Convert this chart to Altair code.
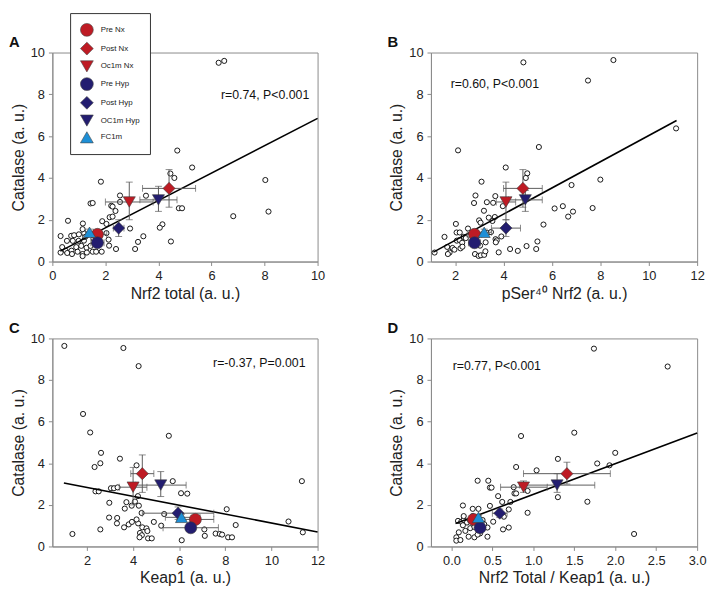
import altair as alt
import pandas as pd

FONT = "Liberation Sans"

groups = ["Pre Nx", "Post Nx", "Oc1m Nx", "Pre Hyp", "Post Hyp", "OC1m Hyp", "FC1m"]
group_colors = ["#BE1B24", "#BE1B24", "#BE1B24", "#231D70", "#231D70", "#231D70", "#1E8FD6"]
group_shapes = ["circle", "diamond", "triangle-down", "circle", "diamond", "triangle-down", "triangle-up"]
cat_mean = [1.3, 3.5, 2.85, 0.9, 1.6, 2.95, 1.4]
y_ticks = [0, 2, 4, 6, 8, 10]

# ---------------- Panel A : Nrf2 total ----------------
a_x = [6.27, 6.48, 3.23, 4.71, 5.27, 4.45, 4.60, 8.03, 1.83, 3.53, 2.55, 2.55, 4.77, 4.89,
       1.44, 1.52, 2.22, 2.27, 2.38, 2.16, 2.27, 1.88, 2.04, 8.15, 6.82, 0.59, 1.15, 2.93,
       4.15, 4.05, 3.43, 3.23, 3.12, 4.47, 2.40, 2.12, 2.14, 0.31, 0.71, 0.82, 1.00, 1.20,
       1.14, 2.04, 0.55, 0.77, 0.99, 1.19, 1.24, 0.37, 0.50, 0.31, 0.72, 0.90, 1.09, 1.29,
       1.44, 0.56, 0.74, 0.95, 1.14, 1.30, 1.52, 1.65, 1.86, 1.14, 1.55]
a_y = [9.51, 9.60, 5.47, 5.31, 4.50, 4.21, 4.00, 3.90, 3.82, 3.15, 3.16, 2.85, 2.55, 2.55,
       2.78, 2.80, 2.67, 2.63, 2.42, 2.12, 2.15, 1.93, 1.80, 2.39, 2.17, 1.95, 1.82, 1.58,
       1.78, 1.62, 1.21, 0.94, 0.60, 0.96, 0.60, 1.05, 0.76, 1.22, 1.23, 1.26, 1.30, 1.35,
       1.55, 1.36, 0.99, 0.99, 0.99, 1.00, 1.18, 0.69, 0.52, 0.43, 0.52, 0.69, 0.75, 0.66,
       0.75, 0.41, 0.36, 0.47, 0.36, 0.43, 0.47, 0.47, 0.47, 0.26, 1.10]
a_mean_x = [1.7, 4.4, 2.9, 1.7, 2.5, 4.0, 1.4]
a_xlo = [1.35, 3.4, 2.0, 1.45, 2.3, 3.3, 1.25]
a_xhi = [2.05, 5.4, 3.8, 1.95, 2.7, 4.7, 1.55]
a_ylo = [1.15, 2.6, 2.0, 0.8, 1.2, 2.4, 1.25]
a_yhi = [1.45, 4.4, 3.8, 1.0, 2.0, 3.6, 1.55]
a_fit_x = [0.3, 10.0]
a_fit_y = [0.5, 6.85]

# ---------------- Panel B : pSer40 Nrf2 ----------------
b_x = [4.82, 8.54, 7.49, 11.13, 2.12, 5.46, 4.09, 4.98, 4.92, 3.09, 6.81, 8.00, 2.84, 3.66,
       2.78, 3.31, 3.57, 3.97, 6.11, 6.45, 6.87, 6.67, 7.68, 3.19, 5.65, 2.03, 2.99, 3.05,
       3.64, 3.39, 3.54, 2.53, 1.56, 2.06, 2.19, 2.35, 2.44, 2.07, 2.18, 1.67, 1.89, 1.97,
       2.22, 1.77, 1.70, 1.15, 2.29, 2.30, 2.82, 2.97, 3.06, 3.20, 3.03, 3.26, 3.25, 3.67,
       3.72, 3.91, 3.68, 3.80, 4.27, 4.59, 4.95, 5.35, 5.40, 3.33, 3.48]
b_y = [9.53, 9.64, 8.66, 6.37, 5.32, 5.48, 4.50, 4.22, 4.00, 3.82, 3.66, 3.92, 3.16, 3.13,
       2.80, 2.84, 2.81, 2.65, 2.54, 2.65, 2.39, 2.15, 2.56, 2.43, 1.77, 1.80, 1.97, 1.86,
       2.13, 2.10, 1.94, 1.58, 1.18, 1.39, 1.39, 1.18, 1.12, 1.00, 1.03, 0.70, 0.65, 0.57,
       0.63, 0.43, 0.36, 0.43, 0.90, 0.71, 0.36, 0.27, 0.30, 0.32, 0.76, 0.92, 0.49, 1.07,
       1.01, 1.20, 0.92, 0.44, 0.60, 0.51, 0.74, 0.60, 0.96, 1.37, 1.41]
b_mean_x = [2.8, 4.8, 4.1, 2.8, 4.1, 4.9, 3.2]
b_xlo = [2.5, 4.0, 3.7, 2.55, 3.5, 4.2, 2.9]
b_xhi = [3.1, 5.6, 4.5, 3.05, 4.7, 5.6, 3.5]
b_ylo = [1.15, 2.6, 2.0, 0.8, 1.2, 2.4, 1.25]
b_yhi = [1.45, 4.4, 3.8, 1.0, 2.0, 3.4, 1.55]
b_fit_x = [1.1, 11.15]
b_fit_y = [0.45, 6.75]

# ---------------- Panel C : Keap1 ----------------
c_x = [1.02, 3.58, 4.24, 1.83, 2.14, 5.55, 2.61, 2.58, 2.33, 3.43, 4.15, 5.72, 11.32, 2.37,
       2.51, 3.04, 3.17, 3.33, 4.21, 6.08, 6.35, 2.97, 3.71, 4.08, 3.64, 3.94, 4.25, 4.37,
       5.35, 8.06, 2.96, 3.31, 3.30, 3.61, 3.81, 3.95, 4.22, 4.15, 4.40, 4.58, 4.62, 4.30,
       4.38, 4.28, 4.65, 4.81, 4.90, 5.22, 2.58, 1.37, 6.11, 7.09, 7.11, 7.58, 7.76, 7.86,
       8.12, 8.29, 8.45, 10.74, 11.36]
c_y = [9.64, 9.54, 8.67, 6.37, 5.48, 5.32, 4.50, 4.00, 3.82, 4.22, 3.90, 3.14, 3.14, 2.65,
       2.65, 2.80, 2.80, 2.84, 2.42, 2.56, 2.54, 2.10, 2.13, 2.16, 1.82, 1.96, 1.96, 1.61,
       1.56, 1.79, 1.39, 1.37, 1.11, 0.92, 1.06, 1.18, 1.11, 1.30, 0.92, 0.87, 0.74, 0.65,
       0.54, 0.44, 0.39, 0.39, 1.18, 1.00, 0.82, 0.60, 0.30, 0.82, 0.51, 0.62, 0.60, 0.57,
       0.44, 0.44, 1.03, 1.20, 0.68]
c_mean_x = [6.7, 4.4, 4.0, 6.5, 5.95, 5.2, 6.1]
c_xlo = [5.9, 3.9, 3.4, 5.3, 4.4, 4.1, 5.4]
c_xhi = [7.5, 4.9, 4.6, 7.7, 7.5, 6.3, 6.9]
c_ylo = [1.15, 2.6, 2.0, 0.8, 1.3, 2.4, 1.25]
c_yhi = [1.45, 4.4, 3.8, 1.0, 1.9, 3.6, 1.55]
c_fit_x = [1.0, 12.0]
c_fit_y = [3.05, 0.7]

# ---------------- Panel D : Nrf2 total / Keap1 ----------------
d_x = [1.74, 2.64, 1.50, 0.85, 2.00, 1.30, 1.78, 1.93, 0.79, 1.04, 0.32, 0.45, 0.47, 0.49,
       0.76, 0.77, 0.79, 0.93, 0.57, 0.62, 0.72, 0.70, 0.47, 0.14, 0.26, 0.33, 0.93, 1.30,
       1.66, 2.23, 0.64, 0.51, 0.44, 0.70, 0.63, 0.44, 0.08, 0.12, 0.15, 0.19, 0.23, 0.09,
       0.17, 0.23, 0.06, 0.06, 0.11, 0.14, 0.21, 0.28, 0.35, 0.38, 0.40, 0.28, 0.15, 0.26,
       0.32]
d_y = [9.51, 8.65, 5.47, 5.31, 4.50, 4.21, 3.99, 3.90, 3.82, 3.66, 3.16, 3.16, 2.83, 2.83,
       2.85, 2.55, 2.55, 2.67, 2.42, 2.14, 2.14, 1.78, 1.95, 1.97, 1.81, 1.81, 1.62, 2.37,
       2.15, 0.60, 1.43, 1.19, 0.91, 0.91, 0.82, 0.47, 1.23, 1.19, 1.27, 1.15, 1.23, 0.68,
       0.75, 0.88, 0.44, 0.28, 0.31, 1.02, 0.47, 0.44, 0.63, 1.27, 1.07, 0.94, 1.46, 1.46,
       0.57]
d_mean_x = [0.27, 1.41, 0.88, 0.35, 0.59, 1.29, 0.33]
d_xlo = [0.22, 0.88, 0.60, 0.30, 0.50, 0.83, 0.30]
d_xhi = [0.32, 1.94, 1.17, 0.40, 0.68, 1.75, 0.36]
d_ylo = [1.2, 3.0, 2.6, 0.8, 1.4, 2.6, 1.3]
d_yhi = [1.4, 4.05, 3.15, 1.0, 1.8, 3.5, 1.5]
d_fit_x = [0.05, 3.0]
d_fit_y = [1.1, 5.45]

panel_letters = ["A", "B", "C", "D"]
stat_texts = ["r=0.74, P<0.001", "r=0.60, P<0.001", "r=-0.37, P=0.001", "r=0.77, P<0.001"]
x_titles = ["Nrf2 total (a. u.)", "pSer\u2074\u2070 Nrf2  (a. u.)", "Keap1 (a. u.)",
            "Nrf2 Total / Keap1 (a. u.)"]


def panel(px, py, mx, xlo, xhi, ylo, yhi, fx, fy, xdom, xticks, xfmt, xtitle,
          stat, stat_pos, letter, w, h, show_legend):
    pts = pd.DataFrame({"x": px, "y": py})
    means = pd.DataFrame({"group": groups, "x": mx, "y": cat_mean,
                          "xlo": xlo, "xhi": xhi, "ylo": ylo, "yhi": yhi})
    fit = pd.DataFrame({"x": fx, "y": fy})
    hcap = pd.DataFrame({"x": list(xlo) + list(xhi), "y": cat_mean * 2})
    vcap = pd.DataFrame({"x": list(mx) * 2, "y": list(ylo) + list(yhi)})

    xs = alt.Scale(domain=xdom, nice=False, zero=False)
    ys = alt.Scale(domain=[0, 10], nice=False, zero=False)
    xax = alt.Axis(values=xticks, format=xfmt, title=xtitle)
    yax = alt.Axis(values=y_ticks, title="Catalase (a. u.)")

    def X(f):
        return alt.X(f, type="quantitative", scale=xs, axis=xax)

    def Y(f):
        return alt.Y(f, type="quantitative", scale=ys, axis=yax)

    err_col = "#5a5a5a"
    l_pts = alt.Chart(pts).mark_point(shape="circle", fill="white", fillOpacity=1, stroke="black",
                                      strokeWidth=0.9, size=27, opacity=1).encode(x=X("x"), y=Y("y"))
    l_fit = alt.Chart(fit).mark_line(color="black", strokeWidth=1.6).encode(x=X("x"), y=Y("y"))
    l_h = alt.Chart(means).mark_rule(color=err_col, strokeWidth=1).encode(
        x=X("xlo"), x2="xhi:Q", y=Y("y"))
    l_v = alt.Chart(means).mark_rule(color=err_col, strokeWidth=1).encode(
        x=X("x"), y=Y("ylo"), y2="yhi:Q")
    l_hc = alt.Chart(hcap).mark_tick(orient="vertical", color=err_col, size=7, thickness=1).encode(
        x=X("x"), y=Y("y"))
    l_vc = alt.Chart(vcap).mark_tick(orient="horizontal", color=err_col, size=7, thickness=1).encode(
        x=X("x"), y=Y("y"))
    if show_legend:
        leg = alt.Legend(title=None, orient="none", legendX=18, legendY=-40,
                         strokeColor="#333333", fillColor="white", padding=10,
                         symbolSize=170, labelFontSize=8, labelFont=FONT, labelColor="#222222",
                         rowPadding=3, labelOffset=7, symbolStrokeColor="#444444",
                         symbolStrokeWidth=0.6, cornerRadius=0)
    else:
        leg = None
    l_means = alt.Chart(means).mark_point(filled=True, size=150, stroke="#3a3a3a",
                                          strokeWidth=0.6, opacity=1).encode(
        x=X("x"), y=Y("y"),
        color=alt.Color("group:N", scale=alt.Scale(domain=groups, range=group_colors), legend=leg),
        shape=alt.Shape("group:N", scale=alt.Scale(domain=groups, range=group_shapes), legend=leg),
    )
    l_stat = alt.Chart(pd.DataFrame({"t": [stat]})).mark_text(
        align="left", baseline="middle", fontSize=12.5, font=FONT, color="#111111").encode(
        text="t:N", x=alt.value(stat_pos[0]), y=alt.value(stat_pos[1]))
    l_letter = alt.Chart(pd.DataFrame({"t": [letter]})).mark_text(
        align="left", baseline="alphabetic", fontSize=15, fontWeight="bold", font=FONT,
        color="#111111").encode(text="t:N", x=alt.value(-44), y=alt.value(-6))
    return alt.layer(l_pts, l_fit, l_h, l_v, l_hc, l_vc, l_means, l_stat, l_letter).properties(
        width=w, height=h)


pA = panel(a_x, a_y, a_mean_x, a_xlo, a_xhi, a_ylo, a_yhi, a_fit_x, a_fit_y,
           [0, 10], [0, 2, 4, 6, 8, 10], "d", x_titles[0], stat_texts[0], (171, 43),
           panel_letters[0], 269, 212, True)
pB = panel(b_x, b_y, b_mean_x, b_xlo, b_xhi, b_ylo, b_yhi, b_fit_x, b_fit_y,
           [1, 12], [2, 4, 6, 8, 10, 12], "d", x_titles[1], stat_texts[1], (20, 32),
           panel_letters[1], 270, 212, False)
pC = panel(c_x, c_y, c_mean_x, c_xlo, c_xhi, c_ylo, c_yhi, c_fit_x, c_fit_y,
           [0.5, 12], [2, 4, 6, 8, 10, 12], "d", x_titles[2], stat_texts[2], (163, 25),
           panel_letters[2], 269, 211, False)
pD = panel(d_x, d_y, d_mean_x, d_xlo, d_xhi, d_ylo, d_yhi, d_fit_x, d_fit_y,
           [-0.25, 3.0], [0, 0.5, 1.0, 1.5, 2.0, 2.5, 3.0], ".1f", x_titles[3], stat_texts[3],
           (22, 28), panel_letters[3], 270, 211, False)

chart = alt.concat(pA, pB, pC, pD, columns=2, bounds="flush",
                   spacing={"row": 78, "column": 115}).properties(
    padding=0, background="white"
).configure_view(
    stroke="#8a8a8a", strokeWidth=1
).configure_axis(
    grid=False, domainColor="#8a8a8a", tickColor="#8a8a8a", tickSize=4,
    labelFont=FONT, titleFont=FONT, labelFontSize=13, titleFontSize=16,
    titleFontWeight="normal", labelColor="#222222", titleColor="#222222",
    labelPadding=4, labelFlush=False, labelOverlap=False
).configure_axisY(
    titlePadding=4
).configure_axisX(
    titlePadding=3
)

chart.save("out.html", embed_options={"renderer": "svg", "actions": False})
